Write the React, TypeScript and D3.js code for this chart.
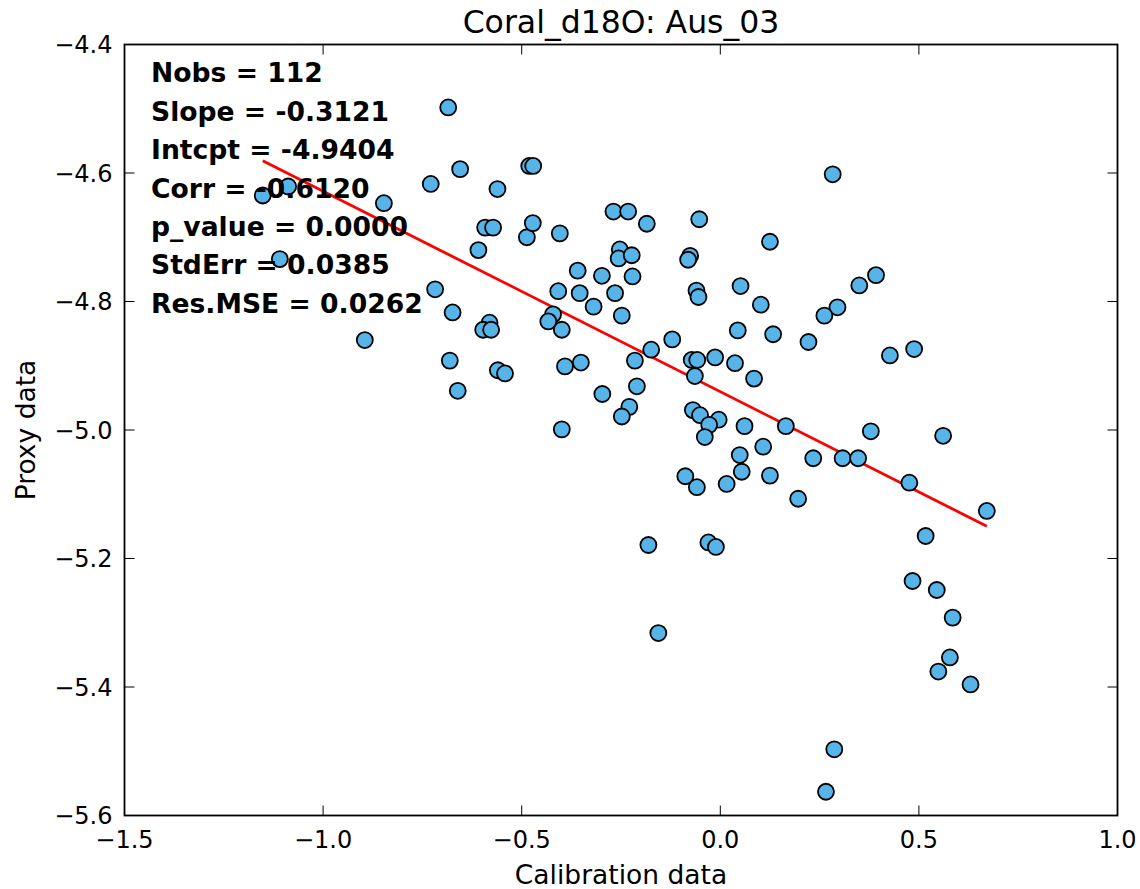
import React from 'react'
import * as d3 from 'd3'

// calibration (x) and proxy (y) values
const calib = [
  -1.152, -1.088, -1.109, -0.847, -0.729, -0.685, -0.655, -0.561, -0.592, -0.572,
  -0.609, -0.718, -0.674, -0.581, -0.597, -0.577, -0.895, -0.681, -0.560, -0.542,
  -0.661, -0.487, -0.481, -0.471, -0.472, -0.404, -0.269, -0.232, -0.185, -0.053,
  0.283, 0.125, -0.253, -0.256, -0.223, -0.076, -0.081, -0.359, -0.298, -0.221,
  -0.408, -0.354, -0.265, -0.060, -0.055, 0.051, 0.350, 0.392, -0.319, -0.248,
  -0.421, -0.433, -0.399, 0.102, 0.295, 0.262, 0.044, 0.133, 0.222, 0.427,
  0.488, -0.174, -0.121, -0.215, -0.072, -0.058, -0.064, -0.013, 0.037, 0.085,
  -0.391, -0.351, -0.210, -0.297, -0.229, -0.248, -0.399, -0.069, -0.051, -0.004,
  -0.028, -0.039, 0.061, 0.165, 0.379, 0.561, 0.108, 0.049, 0.054, 0.234,
  0.308, 0.347, -0.088, -0.059, 0.016, 0.125, 0.196, 0.476, 0.671, 0.517,
  -0.181, -0.030, -0.011, 0.484, 0.545, 0.585, 0.578, 0.549, 0.630, 0.287,
  0.266, -0.156,
]
const proxy = [
  -4.635, -4.621, -4.734, -4.647, -4.617, -4.498, -4.594, -4.625, -4.685, -4.685,
  -4.720, -4.781, -4.817, -4.833, -4.844, -4.844, -4.860, -4.892, -4.907, -4.912,
  -4.939, -4.700, -4.589, -4.589, -4.678, -4.694, -4.660, -4.660, -4.679, -4.672,
  -4.602, -4.707, -4.719, -4.733, -4.728, -4.729, -4.735, -4.752, -4.760, -4.761,
  -4.784, -4.787, -4.787, -4.783, -4.793, -4.776, -4.775, -4.759, -4.808, -4.822,
  -4.820, -4.831, -4.844, -4.805, -4.809, -4.822, -4.845, -4.851, -4.863, -4.884,
  -4.874, -4.875, -4.859, -4.892, -4.891, -4.891, -4.916, -4.887, -4.896, -4.920,
  -4.901, -4.895, -4.932, -4.944, -4.964, -4.979, -4.999, -4.969, -4.977, -4.984,
  -4.992, -5.011, -4.994, -4.994, -5.002, -5.009, -5.026, -5.039, -5.065, -5.044,
  -5.044, -5.044, -5.072, -5.089, -5.084, -5.071, -5.107, -5.082, -5.126, -5.165,
  -5.179, -5.175, -5.182, -5.235, -5.249, -5.292, -5.354, -5.376, -5.396, -5.497,
  -5.563, -5.316,
]

const slope = -0.3121
const intercept = -4.9404
const statLines = [
  'Nobs = 112',
  'Slope = -0.3121',
  'Intcpt = -4.9404',
  'Corr = -0.6120',
  'p_value = 0.0000',
  'StdErr = 0.0385',
  'Res.MSE = 0.0262',
]
const xTicks = [-1.5, -1.0, -0.5, 0.0, 0.5, 1.0]
const yTicks = [-4.4, -4.6, -4.8, -5.0, -5.2, -5.4, -5.6]

const W = 1140
const H = 889
const margin = { left: 124.5, right: 1117.5, top: 44.5, bottom: 815.5 }
const font = 'DejaVu Sans, sans-serif'

export default function App() {
  const x = d3.scaleLinear().domain([-1.5, 1.0]).range([margin.left, margin.right])
  const y = d3.scaleLinear().domain([-5.6, -4.4]).range([margin.bottom, margin.top])
  const fmt = d3.format('.1f')

  const [xmin, xmax] = d3.extent(calib) as [number, number]
  const fitLine = d3.line<number>()
    .x(d => x(d))
    .y(d => y(intercept + slope * d))([xmin, xmax])

  const tickLen = 10
  const pw = margin.right - margin.left
  const ph = margin.bottom - margin.top

  return (
    <svg width={W} height={H} style={{ position: 'absolute', left: 0, top: 0, background: '#fff' }} fontFamily={font}>
      <rect x={0} y={0} width={W} height={H} fill="#fff" />

      {/* fit line */}
      <path d={fitLine ?? ''} stroke="#ff0000" strokeWidth={2.8} fill="none" />

      {/* points */}
      {calib.map((c, i) => (
        <circle key={i} cx={x(c)} cy={y(proxy[i])} r={8} fill="#56B4E9" stroke="#000" strokeWidth={1.8} />
      ))}

      {/* ticks, inside on all four sides */}
      {xTicks.map(t => (
        <g key={'x' + t}>
          <line x1={x(t)} x2={x(t)} y1={margin.bottom} y2={margin.bottom - tickLen} stroke="#000" strokeWidth={1} />
          <line x1={x(t)} x2={x(t)} y1={margin.top} y2={margin.top + tickLen} stroke="#000" strokeWidth={1} />
          <text x={x(t)} y={margin.bottom + 32} textAnchor="middle" fontSize={24} fill="#000">{fmt(t)}</text>
        </g>
      ))}
      {yTicks.map(t => (
        <g key={'y' + t}>
          <line x1={margin.left} x2={margin.left + tickLen} y1={y(t)} y2={y(t)} stroke="#000" strokeWidth={1} />
          <line x1={margin.right} x2={margin.right - tickLen} y1={y(t)} y2={y(t)} stroke="#000" strokeWidth={1} />
          <text x={margin.left - 12} y={y(t) + 8.7} textAnchor="end" fontSize={24} fill="#000">{fmt(t)}</text>
        </g>
      ))}

      {/* frame */}
      <rect x={margin.left} y={margin.top} width={pw} height={ph} fill="none" stroke="#000" strokeWidth={1.8} />

      {/* stats */}
      {statLines.map((s, i) => (
        <text key={s} x={151} y={82.3 + i * 38.4} fontSize={26.6} fontWeight="bold" fill="#000">{s}</text>
      ))}

      <text x={(margin.left + margin.right) / 2} y={33} textAnchor="middle" fontSize={31.5} fill="#000">Coral_d18O: Aus_03</text>
      <text x={(margin.left + margin.right) / 2} y={884} textAnchor="middle" fontSize={26.5} fill="#000">Calibration data</text>
      <text transform={`translate(35,${(margin.top + margin.bottom) / 2}) rotate(-90)`} textAnchor="middle" fontSize={26.5} fill="#000">Proxy data</text>
    </svg>
  )
}
